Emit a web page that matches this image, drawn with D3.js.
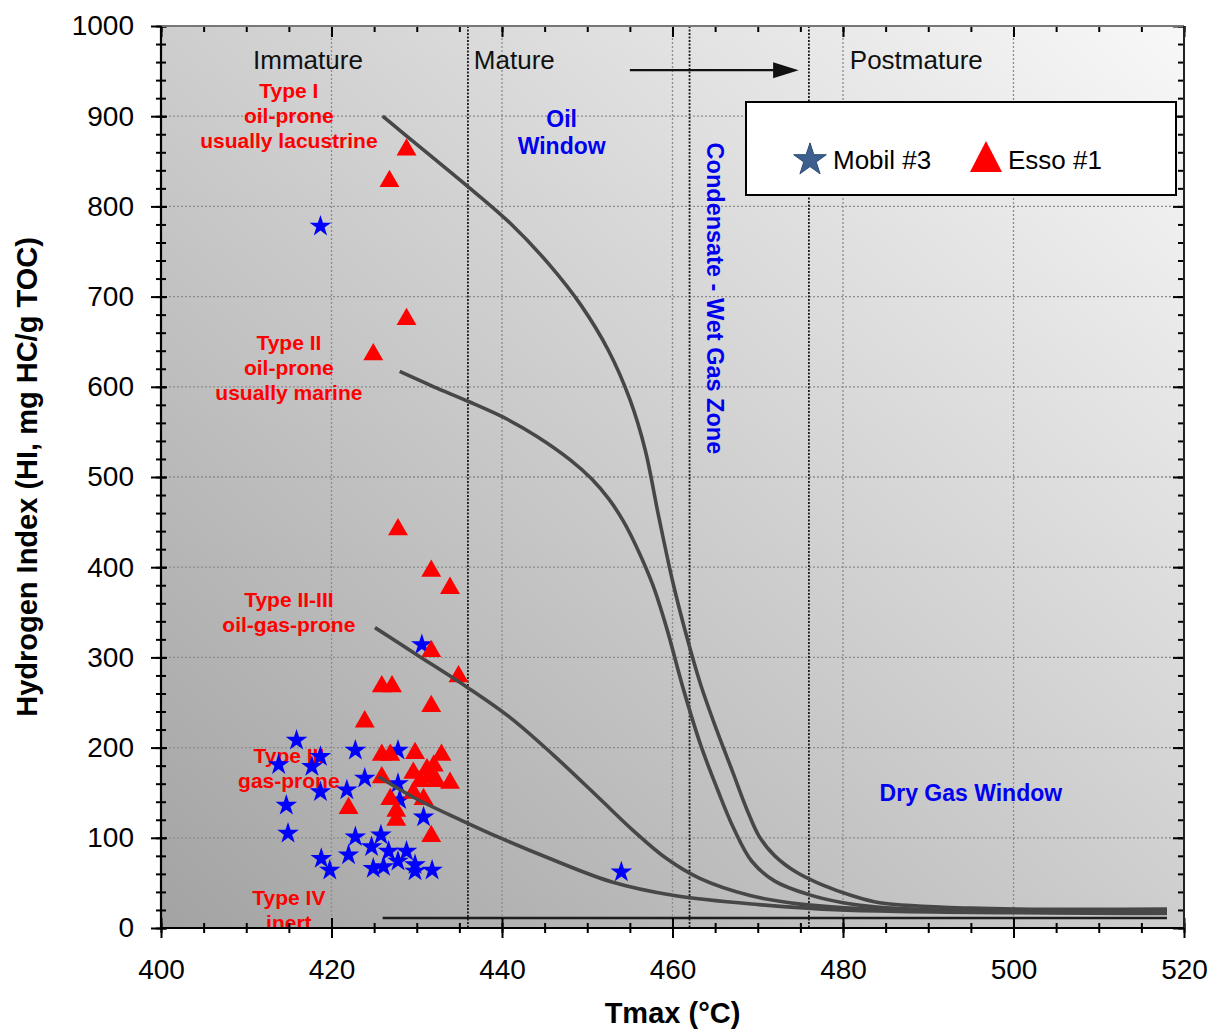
<!DOCTYPE html>
<html>
<head>
<meta charset="utf-8">
<script src="https://cdn.jsdelivr.net/npm/d3@7"></script>
<style>
  body { margin: 0; background: #fff; }
  svg text { font-family: "Liberation Sans", Arial, sans-serif; }
</style>
</head>
<body>
<script>
// ---- data (Tmax in °C, HI in mg HC/g TOC) ----
let mobilPoints = [
  [418.7, 778], [430.6, 314], [415.9, 208], [413.8, 181], [417.7, 179], [418.7, 190],
  [422.8, 197], [427.8, 197], [423.9, 166], [427.8, 160], [428.0, 142], [418.7, 151],
  [421.8, 153], [414.7, 136], [414.9, 105], [422.8, 101], [425.8, 103], [430.8, 123],
  [418.8, 77], [419.8, 64], [422.0, 81], [424.7, 90], [426.7, 85], [428.8, 85],
  [424.9, 66], [426.1, 68], [427.8, 74], [429.8, 63], [429.8, 70], [431.8, 64],
  [454.0, 62]
];
let essoPoints = [
  [428.8, 866], [426.8, 831], [428.8, 678], [424.9, 639], [427.8, 445], [431.7, 399],
  [433.9, 380], [431.7, 310], [434.9, 282], [425.9, 271], [427.1, 271], [431.7, 249],
  [423.9, 232], [425.9, 195], [426.9, 195], [429.8, 197], [432.9, 195], [425.9, 170],
  [429.6, 175], [431.2, 179], [432.0, 183], [430.4, 166], [432.3, 166], [433.9, 164],
  [431.5, 170], [426.9, 146], [430.8, 146], [429.6, 153], [427.6, 133], [427.6, 123],
  [422.0, 136], [431.7, 105]
];

// kerogen type evolution curves
let curveTypeI = [[426, 900], [431, 861], [436, 822], [441, 781], [445.5, 736], [449.3, 690],
  [452.5, 640], [455, 586], [456.8, 530], [458.3, 460], [460, 385], [461.7, 322],
  [463.3, 270], [465.2, 219], [467.1, 172], [468.7, 132], [470.2, 101], [472, 80],
  [474.5, 62], [477.5, 48], [481, 36], [484.3, 28], [495, 22], [518, 21]];
let curveTypeII = [[428, 617], [432, 600], [436, 584], [440.2, 566], [444.1, 545], [448, 519],
  [450.5, 498], [452.5, 476], [454.3, 450], [456, 418], [457.7, 380], [459.3, 333],
  [461.3, 264], [463.3, 203], [465.3, 153], [467.2, 110], [469.3, 74], [472, 52],
  [476, 37], [480, 28], [484.3, 23], [495, 19], [518, 19]];
let curveTypeIIIII = [[425.1, 333], [430, 303], [435.9, 267], [441, 233], [446, 192], [451.5, 143],
  [455.4, 108], [459.3, 77], [463.2, 55], [469.1, 36], [475, 26.5], [484.3, 20.5], [518, 17]];
let curveTypeIII = [[425.5, 168], [430, 143], [435.1, 120], [440, 99], [445.6, 77], [452.9, 51],
  [460.2, 36], [470, 26], [479.7, 20], [518, 16]];
let lineTypeIV = [[426, 11], [518, 11]];

let xTicks = [400, 420, 440, 460, 480, 500, 520];
let yTicks = [0, 100, 200, 300, 400, 500, 600, 700, 800, 900, 1000];
let zoneBounds = [436, 462, 476];
let seriesNames = ['Mobil #3', 'Esso #1'];

// ---- layout ----
let svgWidth = 1219, svgHeight = 1036;
let margin = { top: 26, right: 35, bottom: 108, left: 161 };
let width = svgWidth - margin.left - margin.right;
let height = svgHeight - margin.top - margin.bottom;

let svg = d3.select('body').append('svg')
  .attr('width', svgWidth)
  .attr('height', svgHeight);

let defs = svg.append('defs');
let grad = defs.append('linearGradient').attr('id', 'bg')
  .attr('x1', 0).attr('y1', 1).attr('x2', 1).attr('y2', 0);
grad.append('stop').attr('offset', 0).attr('stop-color', '#a3a3a3');
grad.append('stop').attr('offset', 0.55).attr('stop-color', '#d2d2d2');
grad.append('stop').attr('offset', 1).attr('stop-color', '#f8f8f8');
defs.append('clipPath').attr('id', 'plotclip')
  .append('rect').attr('width', width).attr('height', height);

let g = svg.append('g').attr('transform', 'translate(' + margin.left + ',' + margin.top + ')');

let x = d3.scaleLinear().domain([400, 520]).range([0, width]);
let y = d3.scaleLinear().domain([0, 1000]).range([height, 0]);

g.append('rect').attr('width', width).attr('height', height).attr('fill', 'url(#bg)');

// grid
g.selectAll('.vgrid').data(xTicks.slice(1, -1)).enter().append('line')
  .attr('x1', d => x(d)).attr('x2', d => x(d)).attr('y1', 0).attr('y2', height)
  .attr('stroke', '#8c8c8c').attr('stroke-width', 1.3).attr('stroke-dasharray', '2,2');
g.selectAll('.hgrid').data(yTicks.slice(1, -1)).enter().append('line')
  .attr('x1', 0).attr('x2', width).attr('y1', d => y(d)).attr('y2', d => y(d))
  .attr('stroke', '#8c8c8c').attr('stroke-width', 1.3).attr('stroke-dasharray', '2,2');
g.selectAll('.zone').data(zoneBounds).enter().append('line')
  .attr('x1', d => x(d)).attr('x2', d => x(d)).attr('y1', 0).attr('y2', height)
  .attr('stroke', '#1a1a1a').attr('stroke-width', 1.8).attr('stroke-dasharray', '2,1.5');

// annotations
let plot = g.append('g').attr('clip-path', 'url(#plotclip)');

function multiline(lines, cx, baseline, step, size, color, weight) {
  let t = plot.append('text').attr('text-anchor', 'middle')
    .attr('font-size', size).attr('font-weight', weight).attr('fill', color);
  lines.forEach((s, i) => t.append('tspan').attr('x', cx).attr('y', baseline + i * step).text(s));
}
multiline(['Type I', 'oil-prone', 'usually lacustrine'], x(415), y(920), 25, 21, '#ff0000', 'bold');
multiline(['Type II', 'oil-prone', 'usually marine'], x(415), y(641), 25, 21, '#ff0000', 'bold');
multiline(['Type II-III', 'oil-gas-prone'], x(415), y(356), 25, 21, '#ff0000', 'bold');
multiline(['Type III', 'gas-prone'], x(415), y(183), 25, 21, '#ff0000', 'bold');
multiline(['Type IV', 'inert'], x(415), y(25.5), 25, 21, '#ff0000', 'bold');
multiline(['Oil', 'Window'], x(447), y(888), 27, 23, '#0000ee', 'bold');
multiline(['Dry Gas Window'], x(495), y(141), 0, 23, '#0000ee', 'bold');

plot.append('text')
  .attr('transform', 'translate(' + x(464) + ',' + y(698) + ') rotate(90)')
  .attr('text-anchor', 'middle').attr('font-size', 23.5).attr('font-weight', 'bold')
  .attr('fill', '#0000ee').text('Condensate - Wet Gas Zone');

let stages = [['Immature', 410.8], ['Mature', 436.7], ['Postmature', 480.8]];
plot.selectAll('.stage').data(stages).enter().append('text')
  .attr('x', d => x(d[1])).attr('y', y(952))
  .attr('font-size', 26).attr('fill', '#111').text(d => d[0]);

// maturity arrow
plot.append('line')
  .attr('x1', x(455)).attr('x2', x(472)).attr('y1', y(951)).attr('y2', y(951))
  .attr('stroke', '#111').attr('stroke-width', 2.2);
plot.append('path')
  .attr('d', 'M' + x(471.8) + ',' + (y(951) - 8) + 'L' + x(474.8) + ',' + y(951) + 'L' + x(471.8) + ',' + (y(951) + 8) + 'Z')
  .attr('fill', '#111');

// points
let starSym = d3.symbol().type(d3.symbolStar).size(145);
let triangle = {
  draw(ctx, size) {
    let w = Math.sqrt(size) * 0.76, h = Math.sqrt(size) * 0.66;
    ctx.moveTo(0, -h); ctx.lineTo(w, h); ctx.lineTo(-w, h); ctx.closePath();
  }
};
let triSym = d3.symbol().type(triangle).size(172);

plot.selectAll('.mobil').data(mobilPoints).enter().append('path')
  .attr('class', 'mobil')
  .attr('transform', d => 'translate(' + x(d[0]) + ',' + y(d[1]) + ')')
  .attr('d', starSym).attr('fill', '#0000ff');
plot.selectAll('.esso').data(essoPoints).enter().append('path')
  .attr('class', 'esso')
  .attr('transform', d => 'translate(' + x(d[0]) + ',' + y(d[1]) + ')')
  .attr('d', triSym).attr('fill', '#ff0000');

// curves
let line = d3.line().x(d => x(d[0])).y(d => y(d[1])).curve(d3.curveCatmullRom.alpha(0.5));
plot.selectAll('.curve').data([curveTypeI, curveTypeII, curveTypeIIIII, curveTypeIII]).enter()
  .append('path').attr('d', line)
  .attr('fill', 'none').attr('stroke', '#474747').attr('stroke-width', 3.6);
plot.append('path').attr('d', d3.line().x(d => x(d[0])).y(d => y(d[1]))(lineTypeIV))
  .attr('fill', 'none').attr('stroke', '#1e1e1e').attr('stroke-width', 2.5);

// axes
function styleAxis(sel) {
  sel.select('.domain').remove();
  sel.selectAll('line').attr('stroke', '#000').attr('stroke-width', 2);
}
let bottom = g.append('g').attr('transform', 'translate(0,' + height + ')');
bottom.append('g').call(d3.axisBottom(x).ticks(24).tickSize(5).tickFormat('')).call(styleAxis)
  .selectAll('line').attr('y1', -5);
let bMajor = bottom.append('g').call(d3.axisBottom(x).tickValues(xTicks).tickSize(10)).call(styleAxis);
bMajor.selectAll('line').attr('y1', -10);
bMajor.selectAll('text').attr('y', 51).attr('dy', null)
  .attr('font-size', 28).attr('fill', '#000').style('font-family', '"Liberation Sans", Arial, sans-serif');

let topAx = g.append('g');
topAx.append('g').call(d3.axisTop(x).ticks(24).tickSize(-6).tickFormat('')).call(styleAxis);
topAx.append('g').call(d3.axisTop(x).tickValues(xTicks).tickSize(-11).tickFormat('')).call(styleAxis);

let left = g.append('g');
left.append('g').call(d3.axisLeft(y).ticks(50).tickSize(5).tickFormat('')).call(styleAxis)
  .selectAll('line').attr('x1', 5);
let lMajor = left.append('g').call(d3.axisLeft(y).tickValues(yTicks).tickSize(10).tickFormat(d3.format('d'))).call(styleAxis);
lMajor.selectAll('line').attr('x1', 6);
lMajor.selectAll('text').attr('x', -27)
  .attr('font-size', 28).attr('fill', '#000').style('font-family', '"Liberation Sans", Arial, sans-serif');

let rightAx = g.append('g').attr('transform', 'translate(' + width + ',0)');
rightAx.append('g').call(d3.axisRight(y).ticks(50).tickSize(-6).tickFormat('')).call(styleAxis);
rightAx.append('g').call(d3.axisRight(y).tickValues(yTicks).tickSize(-11).tickFormat('')).call(styleAxis);

// frame
g.append('line').attr('x1', 0).attr('x2', width).attr('y1', 0).attr('y2', 0).attr('stroke', '#777').attr('stroke-width', 2);
g.append('line').attr('x1', width).attr('x2', width).attr('y1', 0).attr('y2', height).attr('stroke', '#222').attr('stroke-width', 2);
g.append('line').attr('x1', 0).attr('x2', 0).attr('y1', 0).attr('y2', height).attr('stroke', '#000').attr('stroke-width', 2.2);
g.append('line').attr('x1', 0).attr('x2', width).attr('y1', height).attr('y2', height).attr('stroke', '#000').attr('stroke-width', 2.2);

// axis titles
svg.append('text').attr('x', margin.left + width / 2).attr('y', 1023)
  .attr('text-anchor', 'middle').attr('font-size', 29).attr('font-weight', 'bold').text('Tmax (°C)');
svg.append('text').attr('transform', 'translate(37,' + (margin.top + height / 2) + ') rotate(-90)')
  .attr('text-anchor', 'middle').attr('font-size', 29).attr('font-weight', 'bold')
  .text('Hydrogen Index (HI, mg HC/g TOC)');

// legend
let legend = svg.append('g');
legend.append('rect').attr('x', 746).attr('y', 102).attr('width', 430).attr('height', 93)
  .attr('fill', '#fff').attr('stroke', '#000').attr('stroke-width', 2);
legend.append('path').attr('transform', 'translate(810,160)')
  .attr('d', d3.symbol().type(d3.symbolStar).size(330)).attr('fill', '#3c5f8e').attr('stroke', '#2b4a74');
legend.append('path').attr('transform', 'translate(986,157)')
  .attr('d', d3.symbol().type({ draw(ctx) { ctx.moveTo(0, -16); ctx.lineTo(16, 15); ctx.lineTo(-16, 15); ctx.closePath(); } })())
  .attr('fill', '#ff0000');
legend.selectAll('.ltext').data(seriesNames).enter().append('text')
  .attr('x', (d, i) => i === 0 ? 833 : 1008).attr('y', 169)
  .attr('font-size', 26).attr('fill', '#000').text(d => d);
</script>
</body>
</html>
